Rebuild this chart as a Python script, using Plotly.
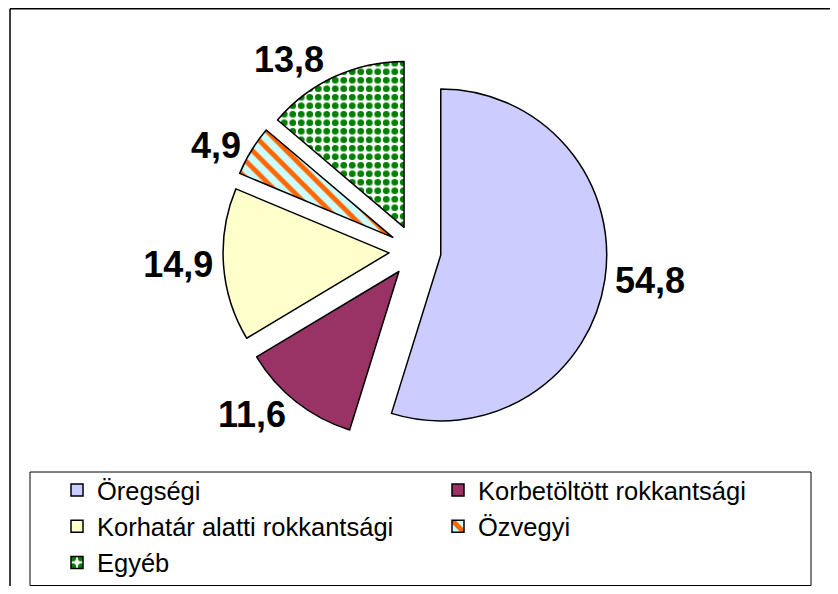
import plotly.graph_objects as go

# Data
categories = ["Öregségi", "Korbetöltött rokkantsági", "Korhatár alatti rokkantsági", "Özvegyi", "Egyéb"]
values = [54.8, 11.6, 14.9, 4.9, 13.8]
value_labels = ["54,8", "11,6", "14,9", "4,9", "13,8"]

# Styles
slice_colors = ["#CCCCFF", "#993366", "#FFFFCC", "#CCFFFF", "#FFFFFF"]
pattern_shapes = ["", "", "", "\\", "."]
pattern_fg = ["#000000", "#000000", "#000000", "#FF6600", "#008000"]
pattern_bg = slice_colors
pattern_size = [8, 8, 8, 12, 8.5]
pattern_solidity = [0.3, 0.3, 0.3, 0.4, 0.5]

# The page body has an 8px margin, so the figure is made smaller to fit the
# window and all target positions (window pixels) are shifted by OFF.
OFF = 8
W, H = 838 - 2 * OFF, 594 - 2 * OFF

def px_x(v):
    return (v - OFF) / W

def px_y(v):
    return 1 - (v - OFF) / H

fig = go.Figure()
fig.add_trace(go.Pie(
    labels=categories,
    values=values,
    text=value_labels,
    textinfo="text",
    textposition="outside",
    textfont=dict(family="Liberation Sans, Arial, sans-serif", size=36, color="black", weight="bold"),
    sort=False,
    direction="clockwise",
    rotation=0,
    pull=[0.157] * 5,
    marker=dict(
        colors=slice_colors,
        line=dict(color="black", width=1.5),
        pattern=dict(shape=pattern_shapes, fgcolor=pattern_fg, bgcolor=pattern_bg,
                     size=pattern_size, solidity=pattern_solidity, fillmode="replace"),
    ),
    domain=dict(x=[px_x(223), px_x(607)], y=[px_y(443), px_y(59)]),
    hoverinfo="label+percent",
    showlegend=True,
))

fig.update_layout(
    width=W, height=H,
    margin=dict(l=0, r=0, t=0, b=0, pad=0, autoexpand=False),
    paper_bgcolor="white",
    plot_bgcolor="white",
    font=dict(family="Liberation Sans, Arial, sans-serif", color="black"),
    legend=dict(
        orientation="h",
        x=px_x(57), xanchor="left",
        y=px_y(467), yanchor="top",
        entrywidth=336,
        entrywidthmode="pixels",
        font=dict(size=25.5, color="black"),
        bgcolor="rgba(0,0,0,0)",
        borderwidth=0,
        traceorder="normal",
    ),
    shapes=[
        # outer chart frame (left and top edges visible)
        dict(type="line", xref="paper", yref="paper",
             x0=px_x(10), x1=px_x(10), y0=0, y1=px_y(8.8),
             line=dict(color="black", width=1.5), layer="below"),
        dict(type="line", xref="paper", yref="paper",
             x0=px_x(10), x1=1, y0=px_y(8.8), y1=px_y(8.8),
             line=dict(color="black", width=1.5), layer="below"),
        # legend box
        dict(type="rect", xref="paper", yref="paper",
             x0=px_x(30), x1=px_x(811), y0=px_y(585.5), y1=px_y(472),
             line=dict(color="black", width=1), fillcolor="rgba(0,0,0,0)", layer="below"),
    ],
)

fig.write_html("out.html")
